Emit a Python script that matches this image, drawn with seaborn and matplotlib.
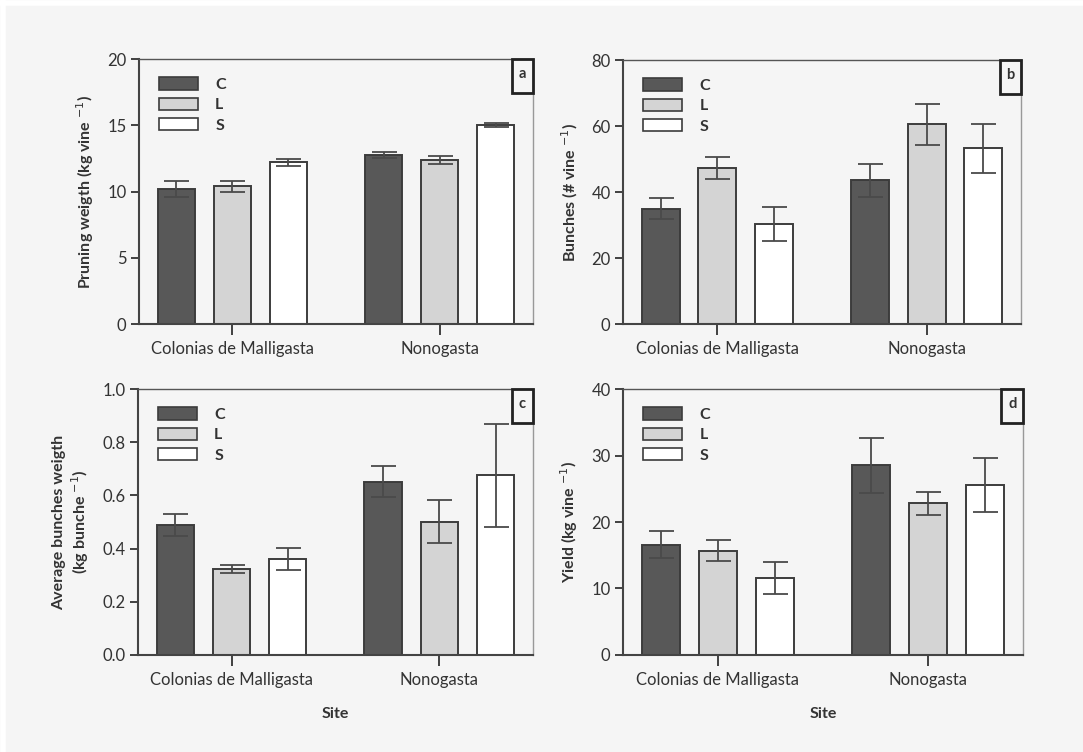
import pandas as pd
import matplotlib.pyplot as plt
import seaborn as sns
from matplotlib.patches import Patch, Rectangle
from matplotlib.lines import Line2D

# data (mean and error per site x treatment)
sites = ["Colonias de Malligasta", "Nonogasta"]
treatments = ["C", "L", "S"]

pruning = {"C": [10.2, 12.75], "L": [10.4, 12.35], "S": [12.2, 15.0]}
pruning_err = {"C": [0.63, 0.25], "L": [0.42, 0.3], "S": [0.25, 0.16]}

bunches = {"C": [35.0, 43.5], "L": [47.2, 60.5], "S": [30.3, 53.2]}
bunches_err = {"C": [3.3, 5.1], "L": [3.4, 6.2], "S": [5.2, 7.3]}

bunch_weight = {"C": [0.489, 0.652], "L": [0.322, 0.501], "S": [0.360, 0.675]}
bunch_weight_err = {"C": [0.041, 0.057], "L": [0.015, 0.08], "S": [0.041, 0.195]}

yield_kg = {"C": [16.6, 28.5], "L": [15.7, 22.8], "S": [11.6, 25.5]}
yield_err = {"C": [2.05, 4.1], "L": [1.55, 1.7], "S": [2.4, 4.05]}

colors = {"C": "#585858", "L": "#d4d4d4", "S": "#ffffff"}
bg = "#f5f5f5"

sns.set_style("ticks")
plt.rcParams["font.family"] = ["Lato", "DejaVu Sans"]

fig = plt.figure(figsize=(10.83, 7.52), dpi=100, facecolor=bg)
# thin white margin on the top and left edges
fig.add_artist(Line2D([0, 1], [0.9965, 0.9965], transform=fig.transFigure, color="white", linewidth=4))
fig.add_artist(Line2D([0.0025, 0.0025], [0, 1], transform=fig.transFigure, color="white", linewidth=4))

panels = [
    ([0.1283, 0.5691, 0.3639, 0.3524], pruning, pruning_err, (0, 20), [0, 5, 10, 15, 20],
     ["0", "5", "10", "15", "20"], "Pruning weigth (kg vine $^{-1}$)", "", "a"),
    ([0.5753, 0.5691, 0.3675, 0.3511], bunches, bunches_err, (0, 80), [0, 20, 40, 60, 80],
     ["0", "20", "40", "60", "80"], "Bunches (# vine $^{-1}$)", "", "b"),
    ([0.1274, 0.1290, 0.3647, 0.3537], bunch_weight, bunch_weight_err, (0, 1.0),
     [0, 0.2, 0.4, 0.6, 0.8, 1.0], ["0.0", "0.2", "0.4", "0.6", "0.8", "1.0"],
     "Average bunches weigth\n(kg bunche $^{-1}$)", "Site", "c"),
    ([0.5753, 0.1290, 0.3693, 0.3537], yield_kg, yield_err, (0, 40), [0, 10, 20, 30, 40],
     ["0", "10", "20", "30", "40"], "Yield (kg vine $^{-1}$)", "Site", "d"),
]

for rect, means, errs, ylim, yticks, yticklabels, ylabel, xlabel, letter in panels:
    ax = fig.add_axes(rect)
    ax.set_facecolor(bg)

    df = pd.DataFrame({
        "Site": [s for t in treatments for s in sites],
        "Treatment": [t for t in treatments for s in sites],
        "value": [v for t in treatments for v in means[t]],
    })
    sns.barplot(data=df, x="Site", y="value", hue="Treatment", order=sites,
                hue_order=treatments, palette=colors, errorbar=None, width=0.81,
                gap=0.33, edgecolor="#3c3c3c", linewidth=1.4, legend=False, ax=ax)

    # error bars at the bar centres
    for cont, t in zip(ax.containers, treatments):
        xs = [p.get_x() + p.get_width() / 2 for p in cont.patches]
        ax.errorbar(xs, means[t], yerr=errs[t], fmt="none", ecolor="#4a4a4a",
                    elinewidth=1.3, capsize=9, capthick=1.3, zorder=5)

    ax.set_xlim(-0.45, 1.45)
    ax.set_ylim(*ylim)
    ax.set_yticks(yticks)
    ax.set_yticklabels(yticklabels, fontsize=12, color="#333333")
    ax.tick_params(axis="x", labelsize=12, length=8, width=1.3, colors="#333333", pad=4)
    ax.tick_params(axis="y", length=6, width=1.3, colors="#333333", pad=3)
    ax.set_ylabel(ylabel, fontsize=11.5, fontweight="bold", color="#333333", labelpad=8)
    ax.set_xlabel(xlabel, fontsize=11.5, fontweight="bold", color="#333333", labelpad=14)

    for side in ["left", "bottom"]:
        ax.spines[side].set_color("#444444")
        ax.spines[side].set_linewidth(1.5)
    ax.spines["top"].set_color("#555555")
    ax.spines["top"].set_linewidth(1.0)
    ax.spines["right"].set_color("#999999")
    ax.spines["right"].set_linewidth(1.0)

    handles = [Patch(facecolor=colors[t], edgecolor="#3c3c3c", linewidth=1.2) for t in treatments]
    leg = ax.legend(handles, treatments, loc="upper left", bbox_to_anchor=(0.015, 0.985),
                    frameon=False, handlelength=2.4, handleheight=0.8, handletextpad=1.1,
                    labelspacing=0.35, prop={"weight": "bold", "size": 11.5})
    for txt in leg.get_texts():
        txt.set_color("#333333")

    # boxed panel letter
    ax.add_patch(Rectangle((1 - 0.054, 1 - 0.128), 0.054, 0.128, transform=ax.transAxes,
                           fill=False, edgecolor="#222222", linewidth=2, clip_on=False, zorder=6))
    ax.text(1 - 0.027, 1 - 0.055, letter, transform=ax.transAxes, ha="center", va="center",
            fontsize=10.5, fontweight="bold", color="#333333")

plt.savefig("out.png", dpi=100, facecolor=bg)
